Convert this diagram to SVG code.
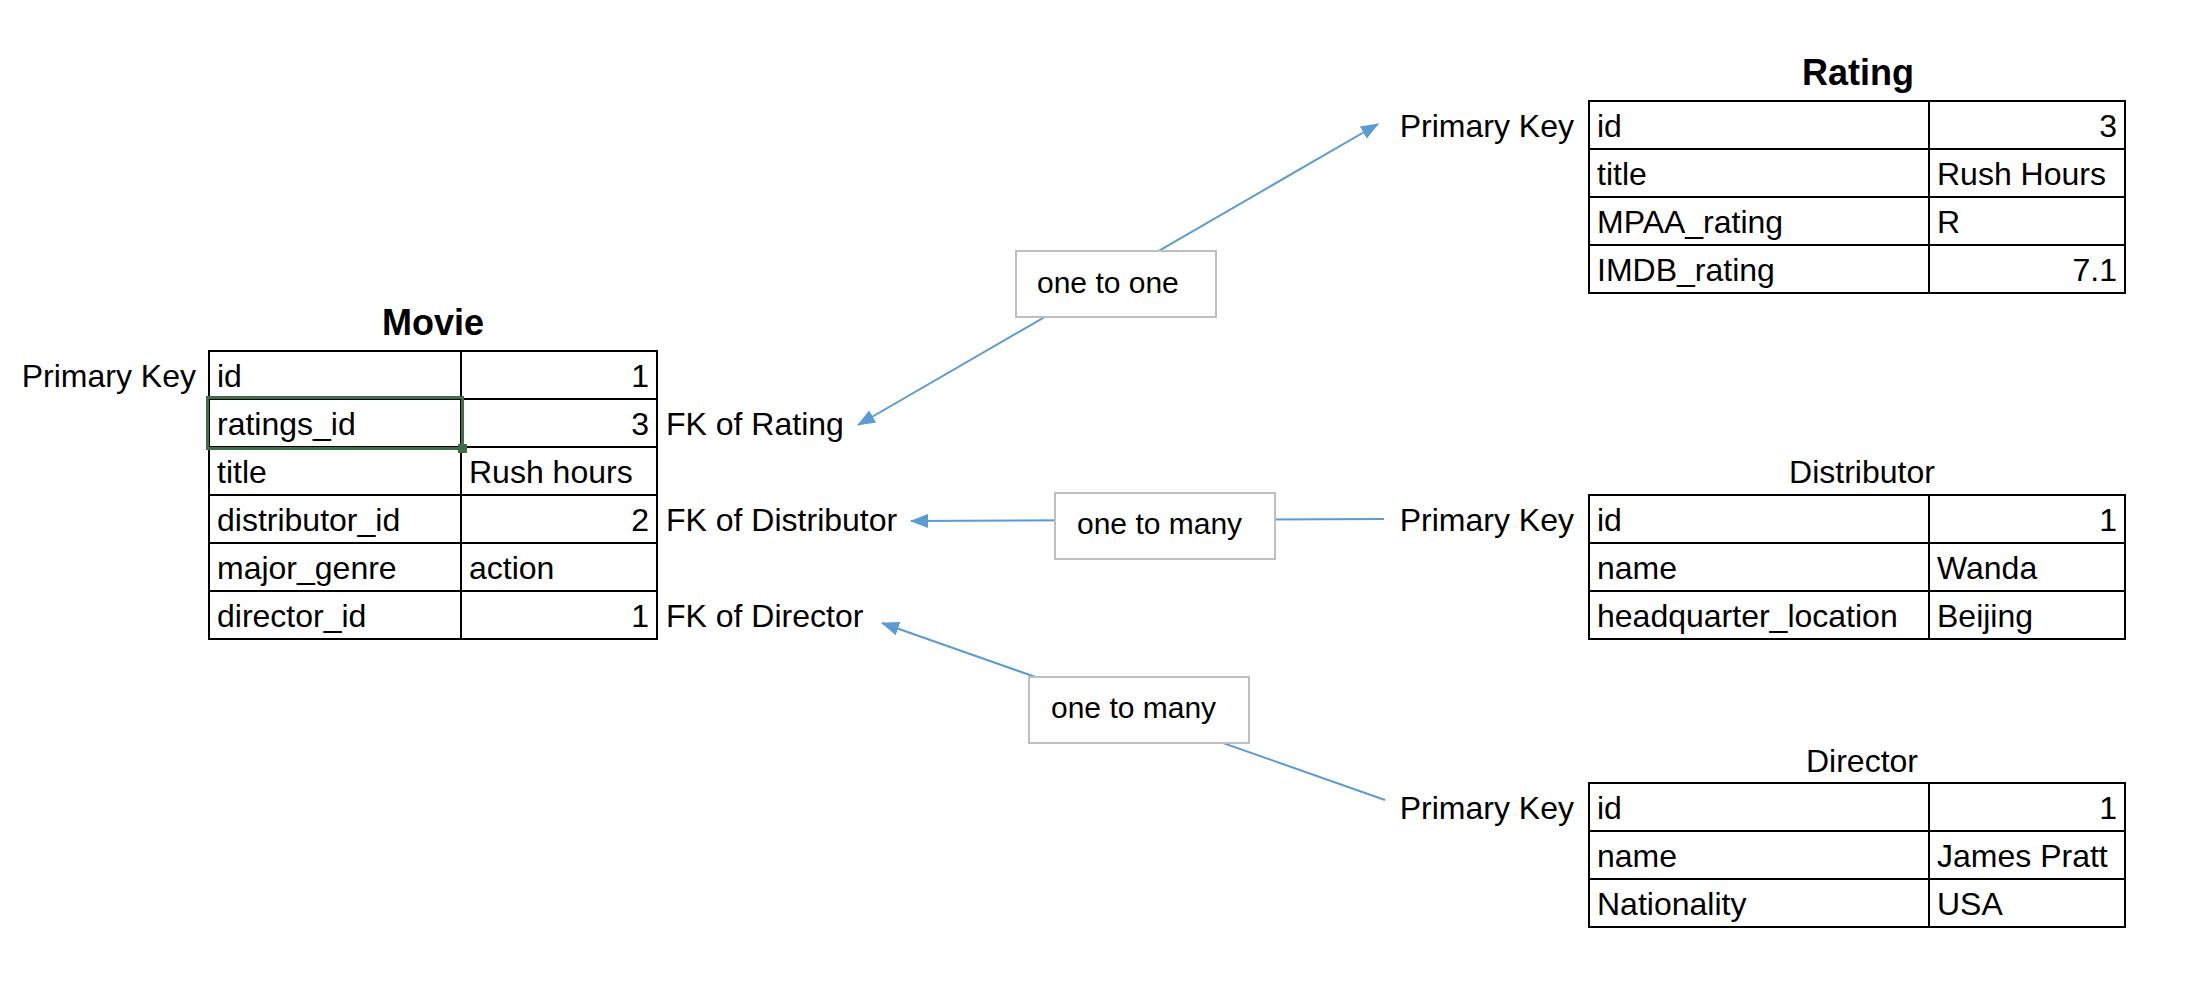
<svg xmlns="http://www.w3.org/2000/svg" width="2210" height="990" viewBox="0 0 2210 990">
<defs>
<style>
text{font-family:"Liberation Sans",Arial,sans-serif;fill:#000}
.t{font-size:32px}
.r{text-anchor:end}
.c{text-anchor:middle}
.h{font-size:36px;font-weight:bold;text-anchor:middle}
.lbl{font-size:30px}
.grid{fill:none;stroke:#000;stroke-width:2}
.conn{stroke:#5b9bd5;stroke-width:2;fill:none}
.box{fill:#fff;stroke:#bfbfbf;stroke-width:2}
</style>
<marker id="arr" viewBox="0 0 18 14" refX="17" refY="7" markerWidth="18" markerHeight="14" markerUnits="userSpaceOnUse" orient="auto-start-reverse">
<path d="M0,0 L18,7 L0,14 z" fill="#5b9bd5"/>
</marker>
</defs>
<rect width="2210" height="990" fill="#fff"/>

<g id="connectors">
<line class="conn" x1="858" y1="425" x2="1378" y2="124" marker-start="url(#arr)" marker-end="url(#arr)"/>
<line class="conn" x1="1384" y1="519" x2="911" y2="521" marker-end="url(#arr)"/>
<line class="conn" x1="1385" y1="800" x2="882" y2="623" marker-end="url(#arr)"/>
<g id="label-one-to-one">
<rect class="box" x="1016" y="251" width="200" height="66"/>
<text class="lbl" x="1037" y="293">one to one</text>
</g>
<g id="label-one-to-many-distributor">
<rect class="box" x="1055" y="493" width="220" height="66"/>
<text class="lbl" x="1077" y="534">one to many</text>
</g>
<g id="label-one-to-many-director">
<rect class="box" x="1029" y="677" width="220" height="66"/>
<text class="lbl" x="1051" y="718">one to many</text>
</g>
</g>

<g id="movie">
<text class="h" x="433" y="335">Movie</text>
<text class="t r" x="196" y="387">Primary Key</text>
<rect class="grid" x="209" y="351" width="448" height="288"/>
<path class="grid" d="M461,351V639M209,399H657M209,447H657M209,495H657M209,543H657M209,591H657"/>
<rect x="207.5" y="397.5" width="255" height="51" fill="none" stroke="#3b7046" stroke-width="3"/>
<rect x="458" y="444" width="9" height="9" fill="#3b7046"/>
<text class="t" x="217" y="387">id</text><text class="t r" x="649" y="387">1</text>
<text class="t" x="217" y="435">ratings_id</text><text class="t r" x="649" y="435">3</text>
<text class="t" x="217" y="483">title</text><text class="t" x="469" y="483">Rush hours</text>
<text class="t" x="217" y="531">distributor_id</text><text class="t r" x="649" y="531">2</text>
<text class="t" x="217" y="579">major_genre</text><text class="t" x="469" y="579">action</text>
<text class="t" x="217" y="627">director_id</text><text class="t r" x="649" y="627">1</text>
<text class="t" x="666" y="435">FK of Rating</text>
<text class="t" x="666" y="531">FK of Distributor</text>
<text class="t" x="666" y="627">FK of Director</text>
</g>

<g id="rating">
<text class="h" x="1858" y="85">Rating</text>
<text class="t r" x="1574" y="137">Primary Key</text>
<rect class="grid" x="1589" y="101" width="536" height="192"/>
<path class="grid" d="M1929,101V293M1589,149H2125M1589,197H2125M1589,245H2125"/>
<text class="t" x="1597" y="137">id</text><text class="t r" x="2117" y="137">3</text>
<text class="t" x="1597" y="185">title</text><text class="t" x="1937" y="185">Rush Hours</text>
<text class="t" x="1597" y="233">MPAA_rating</text><text class="t" x="1937" y="233">R</text>
<text class="t" x="1597" y="281">IMDB_rating</text><text class="t r" x="2117" y="281">7.1</text>
</g>

<g id="distributor">
<text class="t c" x="1862" y="483">Distributor</text>
<text class="t r" x="1574" y="531">Primary Key</text>
<rect class="grid" x="1589" y="495" width="536" height="144"/>
<path class="grid" d="M1929,495V639M1589,543H2125M1589,591H2125"/>
<text class="t" x="1597" y="531">id</text><text class="t r" x="2117" y="531">1</text>
<text class="t" x="1597" y="579">name</text><text class="t" x="1937" y="579">Wanda</text>
<text class="t" x="1597" y="627">headquarter_location</text><text class="t" x="1937" y="627">Beijing</text>
</g>

<g id="director">
<text class="t c" x="1862" y="772">Director</text>
<text class="t r" x="1574" y="819">Primary Key</text>
<rect class="grid" x="1589" y="783" width="536" height="144"/>
<path class="grid" d="M1929,783V927M1589,831H2125M1589,879H2125"/>
<text class="t" x="1597" y="819">id</text><text class="t r" x="2117" y="819">1</text>
<text class="t" x="1597" y="867">name</text><text class="t" x="1937" y="867">James Pratt</text>
<text class="t" x="1597" y="915">Nationality</text><text class="t" x="1937" y="915">USA</text>
</g>
</svg>
